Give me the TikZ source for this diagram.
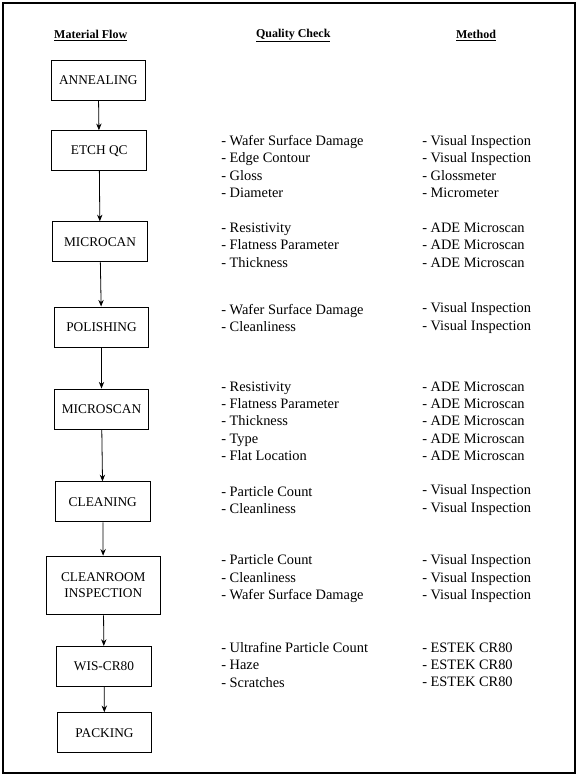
\documentclass[tikz,border=0pt]{standalone}
\usepackage{fontspec}
\setmainfont{Liberation Serif}
\usetikzlibrary{arrows.meta}

\tikzset{
  flowbox/.style={rectangle, draw=black, line width=0.7pt, minimum width=71pt, minimum height=30pt,
    align=center, inner sep=2pt, font=\fontsize{10}{12}\selectfont},
  checklist/.style={anchor=west, align=left, inner sep=0pt, font=\fontsize{10.8}{13}\selectfont},
  colhead/.style={inner sep=0pt, font=\fontsize{9}{11}\selectfont\bfseries},
  flowarrow/.style={-{Stealth[length=5pt,width=4pt]}, line width=0.6pt}
}

\begin{document}
\begin{tikzpicture}[x=0.75pt, y=-0.75pt]
    \useasboundingbox (0,0) rectangle (579,776);
    \draw[line width=0.8pt] (3,3) rectangle (575,773);

    % column headings
    \node[colhead] (hflow) at (90.7,35.5) {\underline{Material Flow}};
    \node[colhead] (hcheck) at (293.3,35.5) {\underline{Quality Check}};
    \node[colhead] (hmethod) at (476,35.5) {\underline{Method}};

    % material flow
    \node[flowbox] (anneal) at (98.3,80) {ANNEALING};
    \node[flowbox] (etch) at (99.2,150.7) {ETCH QC};
    \node[flowbox] (microcan) at (100,241.8) {MICROCAN};
    \node[flowbox] (polish) at (101.5,327) {POLISHING};
    \node[flowbox] (microscan) at (101.5,409) {MICROSCAN};
    \node[flowbox] (clean) at (102.8,501.8) {CLEANING};
    \node[flowbox, minimum width=86pt, minimum height=44pt] (cleanroom) at (103.3,585.5) {CLEANROOM\\INSPECTION};
    \node[flowbox] (wis) at (104,666.4) {WIS-CR80};
    \node[flowbox] (pack) at (104.5,732.7) {PACKING};

    \draw[flowarrow] (anneal) -- (etch);
    \draw[flowarrow] (etch) -- (microcan);
    \draw[flowarrow] (microcan) -- (polish);
    \draw[flowarrow] (polish) -- (microscan);
    \draw[flowarrow] (microscan) -- (clean);
    \draw[flowarrow] (clean) -- (cleanroom);
    \draw[flowarrow] (cleanroom) -- (wis);
    \draw[flowarrow] (wis) -- (pack);

    % quality checks
    \node[checklist] (qetch) at (221,166.5) {- Wafer Surface Damage\\- Edge Contour\\- Gloss\\- Diameter};
    \node[checklist] (qmicrocan) at (221,245) {- Resistivity\\- Flatness Parameter\\- Thickness};
    \node[checklist] (qpolish) at (221,318) {- Wafer Surface Damage\\- Cleanliness};
    \node[checklist] (qmicroscan) at (221,421.2) {- Resistivity\\- Flatness Parameter\\- Thickness\\- Type\\- Flat Location};
    \node[checklist] (qclean) at (221,500) {- Particle Count\\- Cleanliness};
    \node[checklist] (qcleanroom) at (221,578.7) {- Particle Count\\- Cleanliness\\- Wafer Surface Damage};
    \node[checklist] (qwis) at (221,664.7) {- Ultrafine Particle Count\\- Haze\\- Scratches};

    % methods
    \node[checklist] (metch) at (422,166.5) {- Visual Inspection\\- Visual Inspection\\- Glossmeter\\- Micrometer};
    \node[checklist] (mmicrocan) at (422,245) {- ADE Microscan\\- ADE Microscan\\- ADE Microscan};
    \node[checklist] (mpolish) at (422,318) {- Visual Inspection\\- Visual Inspection};
    \node[checklist] (mmicroscan) at (422,421.2) {- ADE Microscan\\- ADE Microscan\\- ADE Microscan\\- ADE Microscan\\- ADE Microscan};
    \node[checklist] (mclean) at (422,500) {- Visual Inspection\\- Visual Inspection};
    \node[checklist] (mcleanroom) at (422,578.7) {- Visual Inspection\\- Visual Inspection\\- Visual Inspection};
    \node[checklist] (mwis) at (422,664.7) {- ESTEK CR80\\- ESTEK CR80\\- ESTEK CR80};
\end{tikzpicture}
\end{document}
